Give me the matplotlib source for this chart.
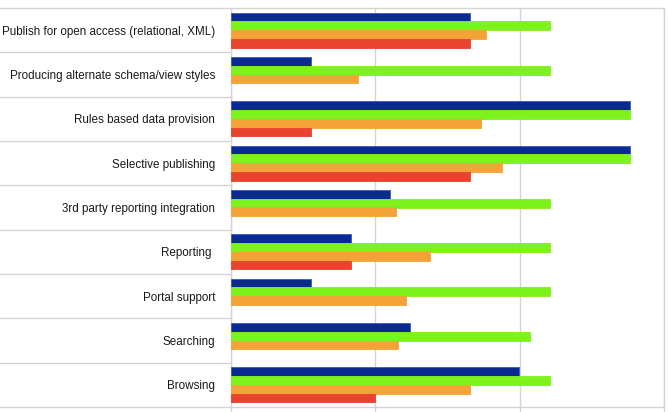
import numpy as np
import matplotlib
matplotlib.use("Agg")
import matplotlib.pyplot as plt

categories = [
    "Publish for open access (relational, XML)",
    "Producing alternate schema/view styles",
    "Rules based data provision",
    "Selective publishing",
    "3rd party reporting integration",
    "Reporting ",
    "Portal support",
    "Searching",
    "Browsing",
]

# values in gridline units (axis runs 0..3, no tick labels shown)
blue = [1.655, 0.552, 2.766, 2.766, 1.103, 0.828, 0.552, 1.241, 1.993]
green = [2.21, 2.21, 2.766, 2.766, 2.21, 2.21, 2.21, 2.074, 2.21]
orange = [1.766, 0.883, 1.731, 1.881, 1.143, 1.379, 1.214, 1.159, 1.655]
red = [1.655, np.nan, 0.552, 1.655, np.nan, 0.828, np.nan, np.nan, 0.998]

series = [blue, green, orange, red]
colors = ["#0B2A8F", "#7DF21C", "#F3A337", "#E8432F"]
edges = ["#3A58C0", "#7DF21C", "#F3A337", "#E8432F"]

plt.rcParams["font.family"] = ["Liberation Sans", "DejaVu Sans"]

W, H = 668, 412
fig = plt.figure(figsize=(W / 100, H / 100), dpi=100)
left, right, top, bottom = 231, 664, 8, 407
ax = fig.add_axes([left / W, 1 - bottom / H, (right - left) / W, (bottom - top) / H])

y = np.arange(len(categories))
h = 0.197
offsets = [-1.5 * h, -0.5 * h, 0.5 * h, 1.5 * h]
for vals, off, c, e in zip(series, offsets, colors, edges):
    ax.barh(y + off, vals, height=h, color=c, edgecolor=e, linewidth=0.6, zorder=3)

ax.set_xlim(0, 3)
ax.set_ylim(len(categories) - 0.5, -0.5)

grid_c = "#d4d4d4"
ax.set_xticks([0, 1, 2, 3])
ax.set_xticklabels([])
ax.xaxis.grid(True, color=grid_c, linewidth=1, zorder=0)
ax.tick_params(axis="x", length=4, color=grid_c, width=1)

ax.set_yticks(y)
ax.set_yticklabels(categories, fontsize=8.4, color="#1a1a1a")
ax.tick_params(axis="y", length=0, pad=11.5)

for s in ax.spines.values():
    s.set_color(grid_c)
    s.set_linewidth(1)

# separator lines running across the label column
frac = left / (right - left)
for b in np.arange(len(categories) + 1) - 0.5:
    ax.axhline(b, xmin=-frac, xmax=0, color=grid_c, linewidth=1, clip_on=False)

fig.savefig("out.png", dpi=100)
